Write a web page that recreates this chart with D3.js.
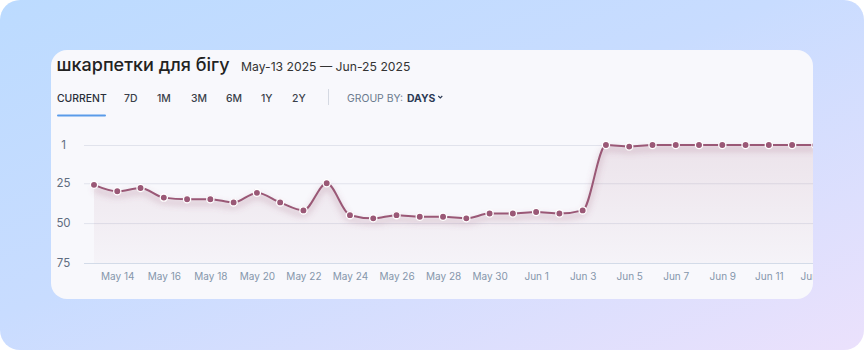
<!DOCTYPE html>
<html><head><meta charset="utf-8">
<script src="https://cdn.jsdelivr.net/npm/d3@7"></script>
<style>
html,body{margin:0;padding:0;background:#fff;}
svg{display:block;font-family:Inter,"Open Sans",sans-serif;}
</style></head>
<body>
<svg id="c" width="864" height="350"></svg>
<script>
// ---- data ----
const title = "шкарпетки для бігу";
const dateRange = "May-13 2025 — Jun-25 2025";
const tabs = ["CURRENT","7D","1M","3M","6M","1Y","2Y"];
const dates = ["2025-05-13","2025-05-14","2025-05-15","2025-05-16","2025-05-17","2025-05-18","2025-05-19","2025-05-20","2025-05-21","2025-05-22","2025-05-23","2025-05-24","2025-05-25","2025-05-26","2025-05-27","2025-05-28","2025-05-29","2025-05-30","2025-05-31","2025-06-01","2025-06-02","2025-06-03","2025-06-04","2025-06-05","2025-06-06","2025-06-07","2025-06-08","2025-06-09","2025-06-10","2025-06-11","2025-06-12","2025-06-13"];
const ranks = [26,30,28,34,35,35,37,31,37,42,25,45,47,45,46,46,47,44,44,43,44,42,1,2,1,1,1,1,1,1,1,1];
const xTicks = ["2025-05-14","2025-05-16","2025-05-18","2025-05-20","2025-05-22","2025-05-24","2025-05-26","2025-05-28","2025-05-30","2025-06-01","2025-06-03","2025-06-05","2025-06-07","2025-06-09","2025-06-11","2025-06-13"];
const yTicks = [1,25,50,75];
const domainStart = "2025-05-13", domainEnd = "2025-06-25";

const parse = d3.utcParse("%Y-%m-%d");
const data = dates.map((d,i)=>({date:parse(d), rank:ranks[i]}));

const svg = d3.select("#c");
const defs = svg.append("defs");

// background gradient
const bg = defs.append("linearGradient").attr("id","bg").attr("x1","0").attr("y1","0").attr("x2","1").attr("y2","1");
bg.append("stop").attr("offset","0").attr("stop-color","#bcdbff");
bg.append("stop").attr("offset","0.45").attr("stop-color","#c8dcff");
bg.append("stop").attr("offset","1").attr("stop-color","#ebe1fc");
svg.append("rect").attr("width",864).attr("height",350).attr("rx",20).attr("fill","url(#bg)");

// card
const card = {x:51,y:50,w:762,h:249};
defs.append("clipPath").attr("id","cardClip").append("rect")
  .attr("x",card.x).attr("y",card.y).attr("width",card.w).attr("height",card.h).attr("rx",16);
svg.append("rect").attr("x",card.x).attr("y",card.y).attr("width",card.w).attr("height",card.h).attr("rx",16).attr("fill","#f8f8fc");

const g = svg.append("g").attr("clip-path","url(#cardClip)");

// header
g.append("text").attr("x",56.5).attr("y",71).attr("font-size",18).attr("font-weight",500).attr("fill","#222").text(title);
g.append("text").attr("x",241).attr("y",71).attr("font-size",12.2).attr("fill","#333").text(dateRange);

const tabX = [57,124,157,191,226,261,292];
tabs.forEach((t,i)=>{
  g.append("text").attr("x",tabX[i]).attr("y",102).attr("font-size",10.4).attr("font-weight",500)
   .attr("fill", i===0 ? "#2a2f3a" : "#3a3f4a").text(t);
});
g.append("line").attr("x1",58).attr("x2",105).attr("y1",115.5).attr("y2",115.5)
  .attr("stroke","#5a9be9").attr("stroke-width",2).attr("stroke-linecap","round");
g.append("line").attr("x1",328.5).attr("x2",328.5).attr("y1",89).attr("y2",105).attr("stroke","#d5d9e2");
const gb = g.append("text").attr("x",347).attr("y",102).attr("font-size",10.4).attr("fill","#6a7a8e").text("GROUP BY:");
const gbEnd = 347 + gb.node().getComputedTextLength();
const dy = g.append("text").attr("x",gbEnd+4).attr("y",102).attr("font-size",10.4).attr("font-weight",700).attr("fill","#2c3a55").text("DAYS");
const dEnd = gbEnd + 4 + dy.node().getComputedTextLength();
g.append("path").attr("d",`M${dEnd+3},96 l2,2 l2,-2`).attr("fill","none").attr("stroke","#2c3a55").attr("stroke-width",1.1);

// scales
const x = d3.scaleUtc().domain([parse(domainStart), parse(domainEnd)]).range([94, 94 + 43*23.27]);
const y = d3.scaleLinear().domain([1,75]).range([145,263]);

// grid
const yAxis = d3.axisLeft(y).tickValues(yTicks).tickSize(0).tickFormat(d3.format("d"));
const yg = g.append("g").attr("transform","translate(84,0)").call(yAxis);
yg.select(".domain").remove();
yg.selectAll("text").attr("x",-20.5).attr("text-anchor","middle").attr("font-size",11.5).attr("fill","#5f6d80").attr("font-family","Inter,'Open Sans',sans-serif");
g.append("g").selectAll("line").data(yTicks).join("line")
  .attr("x1",84).attr("x2",900).attr("y1",d=>y(d)+0.5).attr("y2",d=>y(d)+0.5)
  .attr("stroke",d=>d===75?"#d3dbe8":"#e1e3ec").attr("stroke-width",1);

// area gradient
const ag = defs.append("linearGradient").attr("id","areaG").attr("gradientUnits","userSpaceOnUse")
  .attr("x1",0).attr("y1",145).attr("x2",0).attr("y2",263);
ag.append("stop").attr("offset","0").attr("stop-color","#9a5876").attr("stop-opacity",0.13);
ag.append("stop").attr("offset","1").attr("stop-color","#9a5876").attr("stop-opacity",0.03);

const line = d3.line().x(d=>x(d.date)).y(d=>y(d.rank)).curve(d3.curveMonotoneX);
const area = d3.area().x(d=>x(d.date)).y0(y(75)).y1(d=>y(d.rank)).curve(d3.curveMonotoneX);

g.append("path").datum(data).attr("d",area).attr("fill","url(#areaG)");

// shadow
const f = defs.append("filter").attr("id","sh").attr("x","-10%").attr("y","-50%").attr("width","120%").attr("height","200%");
f.append("feGaussianBlur").attr("stdDeviation",3);
g.append("path").datum(data).attr("d",line).attr("fill","none").attr("stroke","#9a5876")
  .attr("stroke-opacity",0.3).attr("stroke-width",4).attr("transform","translate(0,4)").attr("filter","url(#sh)");

g.append("path").datum(data).attr("d",line).attr("fill","none").attr("stroke","#9a5876").attr("stroke-width",2);
g.append("g").selectAll("circle").data(data).join("circle")
  .attr("cx",d=>x(d.date)).attr("cy",d=>y(d.rank)).attr("r",3.6)
  .attr("fill","#9a5876").attr("stroke","#fff").attr("stroke-width",1.3);

// x axis
const xAxis = d3.axisBottom(x).tickValues(xTicks.map(parse)).tickSize(0).tickFormat(d3.utcFormat("%b %-d"));
const xg = g.append("g").attr("transform","translate(0,263)").call(xAxis);
xg.select(".domain").remove();
xg.selectAll("text").attr("y",10).attr("font-size",10).attr("fill","#8596ab").attr("font-family","Inter,'Open Sans',sans-serif");
</script>
</body></html>
